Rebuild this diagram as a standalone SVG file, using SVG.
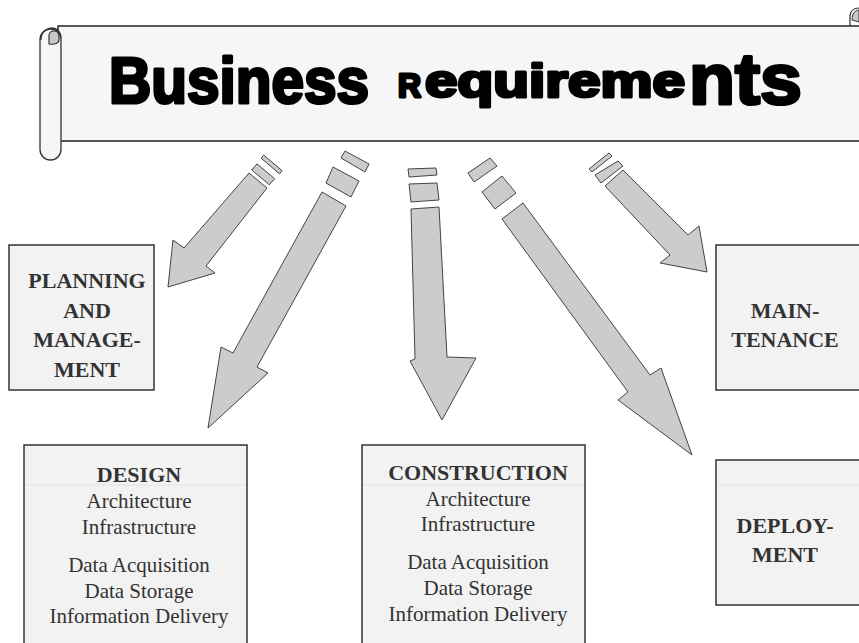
<svg xmlns="http://www.w3.org/2000/svg" width="859" height="643" viewBox="0 0 859 643">
  <style>
    .arrow { fill: #cccccc; stroke: #444444; stroke-width: 1; stroke-linejoin: miter; }
    .box { fill: #f2f2f2; stroke: #333333; stroke-width: 1.5; }
    .band { stroke: #e2e2e2; stroke-width: 1; }
    .hd { font-family: "Liberation Serif", "Times New Roman", serif; font-weight: bold; font-size: 22px; fill: #333333; text-anchor: middle; }
    .tx { font-family: "Liberation Serif", "Times New Roman", serif; font-size: 21px; fill: #333333; text-anchor: middle; }
    .title { font-family: "Liberation Sans", Arial, sans-serif; font-weight: bold; fill: #000000; stroke: #000000; stroke-width: 3.2; stroke-linejoin: round; }
  </style>
  <rect width="859" height="643" fill="#ffffff"/>

  <!-- Banner -->
  <g id="banner">
    <rect x="58" y="26" width="810" height="115" fill="#f6f6f6" stroke="#222222" stroke-width="1.5"/>
    <rect x="40" y="29" width="21" height="131" rx="10.5" ry="10.5" fill="#f6f6f6" stroke="#333333" stroke-width="1.3"/>
    <path d="M41,40 C41,31 48,28 52,28 C57,28 61,32 61,38" fill="none" stroke="#333333" stroke-width="1.3"/>
    <path d="M49,44 L49,36 C49,32 52,31 54,31 C57,31 59,33 59,37 L59,40 C59,43 55,45 49,44 Z" fill="#c8c8c8" stroke="#333333" stroke-width="1.2"/>
    <path d="M850,26 L850,17 C850,11 854,8 859,8" fill="none" stroke="#333333" stroke-width="1.2"/>
    <path d="M852,20 C852,14 855,10 859,10 L859,22 Z" fill="#c8c8c8" stroke="#333333" stroke-width="1"/>
    <text class="title" x="109" y="103" font-size="64" textLength="260" lengthAdjust="spacingAndGlyphs">Business</text>
    <text class="title" x="398" y="97" font-size="34" textLength="23" lengthAdjust="spacingAndGlyphs">R</text>
    <text class="title" x="425" y="97" font-size="47" textLength="260" lengthAdjust="spacingAndGlyphs">equireme</text>
    <text class="title" x="689" y="104" font-size="72" textLength="113" lengthAdjust="spacingAndGlyphs">nts</text>
  </g>

  <!-- Connectors -->
  <g id="connectors">
    <g id="arrow-planning">
      <polygon class="arrow" points="263.7,155.1 282.1,170.7 279.5,173.8 261.1,158.2"/>
      <polygon class="arrow" points="257,163.9 274.6,178.7 269.4,184.8 251.8,170"/>
      <polygon class="arrow" points="249,173 184,248 173,240 168,287 215,273 206,266 267,188"/>
    </g>
    <g id="arrow-design">
      <polygon class="arrow" points="345,151 369,164 365,172 341,158"/>
      <polygon class="arrow" points="333,167 359,181 351,197 326,183"/>
      <polygon class="arrow" points="322,192 233,353 221,347 208,428 268,373 257,367 346,206"/>
    </g>
    <g id="arrow-construction">
      <polygon class="arrow" points="408,169 436,168 437,175 409,177"/>
      <polygon class="arrow" points="409,184 437,183 439,200 411,202"/>
      <polygon class="arrow" points="411,209 415,359 410,361 442,420 476,358 447,357 439,207"/>
    </g>
    <g id="arrow-deployment">
      <polygon class="arrow" points="468,173 490,158 497,166 474,182"/>
      <polygon class="arrow" points="482,192 502,176 516,193 495,209"/>
      <polygon class="arrow" points="502,219 628,392 618,400 692,455 661,368 650,375 523,203"/>
    </g>
    <g id="arrow-maintenance">
      <polygon class="arrow" points="589,169 609,153 612,156 592,172"/>
      <polygon class="arrow" points="595,175 618,161 623,166 601,183"/>
      <polygon class="arrow" points="605,186 670,255 660,263 707,272 699,226 688,235 623,170"/>
    </g>
  </g>

  <!-- Nodes -->
  <g id="node-planning">
    <rect class="box" x="9" y="245" width="145" height="145"/>
    <text class="hd" x="87" y="288">PLANNING</text>
    <text class="hd" x="87" y="318">AND</text>
    <text class="hd" x="87" y="347">MANAGE-</text>
    <text class="hd" x="87" y="377">MENT</text>
  </g>

  <g id="node-maintenance">
    <rect class="box" x="716" y="245" width="160" height="145"/>
    <text class="hd" x="785" y="318">MAIN-</text>
    <text class="hd" x="785" y="347">TENANCE</text>
  </g>

  <g id="node-deployment">
    <rect class="box" x="716" y="460" width="160" height="145"/>
    <line class="band" x1="717" y1="485" x2="859" y2="485"/>
    <text class="hd" x="785" y="533">DEPLOY-</text>
    <text class="hd" x="785" y="562">MENT</text>
  </g>

  <g id="node-design">
    <rect class="box" x="24" y="445" width="223" height="220"/>
    <line class="band" x1="25" y1="485" x2="246" y2="485"/>
    <text class="hd" x="139" y="482">DESIGN</text>
    <text class="tx" x="139" y="508">Architecture</text>
    <text class="tx" x="139" y="534">Infrastructure</text>
    <text class="tx" x="139" y="572">Data Acquisition</text>
    <text class="tx" x="139" y="598">Data Storage</text>
    <text class="tx" x="139" y="623">Information Delivery</text>
  </g>

  <g id="node-construction">
    <rect class="box" x="362" y="445" width="223" height="220"/>
    <line class="band" x1="363" y1="485" x2="584" y2="485"/>
    <text class="hd" x="478" y="480">CONSTRUCTION</text>
    <text class="tx" x="478" y="506">Architecture</text>
    <text class="tx" x="478" y="531">Infrastructure</text>
    <text class="tx" x="478" y="569">Data Acquisition</text>
    <text class="tx" x="478" y="595">Data Storage</text>
    <text class="tx" x="478" y="621">Information Delivery</text>
  </g>
</svg>
